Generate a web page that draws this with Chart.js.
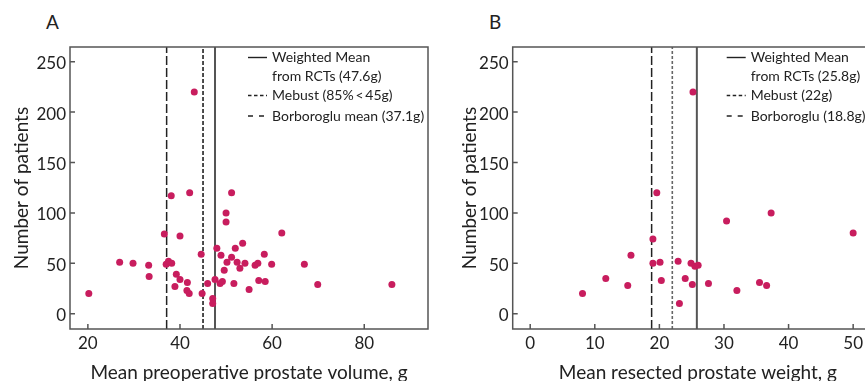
<!DOCTYPE html>
<html>
<head>
<meta charset="utf-8">
<script src="https://cdn.jsdelivr.net/npm/chart.js@4.4.1/dist/chart.umd.min.js"></script>
<style>
  html, body { margin: 0; padding: 0; background: #fff; width: 865px; height: 381px; overflow: hidden; position: relative; }
  canvas { position: absolute; top: 0; }
  #cA { left: 0; }
  #cB { left: 432px; }
  .tag { position: absolute; top: 12px; font: 19px/19px Lato, sans-serif; color: #222; }
</style>
</head>
<body>
<div class="tag" style="left:46px">A</div>
<div class="tag" style="left:489px">B</div>
<canvas id="cA" width="432" height="392"></canvas>
<canvas id="cB" width="455" height="392"></canvas>
<script>
// ---- data ----
const yTicks = [0, 50, 100, 150, 200, 250];

// A: mean preoperative prostate volume (g) vs number of patients
const volA = [20.2, 26.9, 29.8, 33.2, 33.3, 36.6, 37.0, 37.5, 38.2, 38.1, 39.2, 38.9, 40.0, 40.0, 41.6, 41.5,
  42.0, 42.1, 43.1, 44.6, 44.8, 46.0, 47.1, 47.1, 47.6, 48.0, 48.9, 48.7, 49.2, 49.6, 50.0, 50.0, 50.2, 51.2,
  51.2, 51.7, 52.0, 52.4, 53.0, 53.6, 54.1, 55.0, 56.3, 56.9, 57.1, 58.3, 58.5, 59.9, 62.1, 67.0, 69.9, 86.0];
const patientsA = [20, 51, 50, 48, 37, 79, 49, 52, 50, 117, 39, 27, 34, 77, 31, 23,
  20, 120, 220, 59, 20, 30, 15, 10, 34, 65, 58, 30, 32, 43, 100, 91, 51, 56,
  120, 30, 65, 51, 45, 70, 50, 24, 48, 50, 33, 59, 32, 49, 80, 49, 29, 29];
const xTicksA = [20, 40, 60, 80];
const refA = [47.6, 45, 37.1];
const legendA = [['Weighted Mean', 'from RCTs (47.6g)'], ['Mebust (85%\u2009<\u200945g)'], ['Borboroglu mean (37.1g)']];

// B: mean resected prostate weight (g) vs number of patients
const wtB = [8.1, 11.7, 15.1, 15.6, 19.0, 19.0, 19.6, 20.1, 20.3, 22.9, 23.1, 24.0, 24.9, 25.1, 25.2, 25.5,
  26.0, 27.6, 30.4, 32.0, 35.5, 36.6, 37.3, 50.0];
const patientsB = [20, 35, 28, 58, 74, 50, 120, 51, 33, 52, 10, 35, 50, 29, 220, 47,
  48, 30, 92, 23, 31, 28, 100, 80];
const xTicksB = [0, 10, 20, 30, 40, 50];
const refB = [25.8, 22, 18.8];
const legendB = [['Weighted Mean', 'from RCTs (25.8g)'], ['Mebust (22g)'], ['Borboroglu (18.8g)']];

// ---- styling ----
const FONT = 'Lato, "Liberation Sans", sans-serif';
const TXT = '#222';
const DOT = '#c81d5e';
const FRAME = '#555';
const Y_MIN = -15.2, Y_MAX = 264.6;

// solid weighted mean, short-dash Mebust, long-dash Borboroglu
const refStylesA = [
  { color: '#555', width: 2, dash: [], sample: [] },
  { color: '#222', width: 1.6, dash: [4, 2], sample: [3.5, 2.5] },
  { color: '#222', width: 1.5, dash: [9, 3], sample: [5, 6] },
];
const refStylesB = [
  { color: '#555', width: 2, dash: [], sample: [] },
  { color: '#666', width: 1.6, dash: [3, 2], sample: [3.5, 2.5] },
  { color: '#222', width: 1.5, dash: [9, 3], sample: [5, 6] },
];

// frame, inward tick marks and the two-line legend
const panelDeco = {
  id: 'panelDeco',
  afterDraw(chart, args, o) {
    const { ctx, chartArea: a, scales } = chart;
    ctx.save();
    ctx.strokeStyle = FRAME; ctx.lineWidth = 1.5; ctx.setLineDash([]);
    ctx.strokeRect(a.left, a.top, a.right - a.left, a.bottom - a.top);
    ctx.beginPath();
    scales.x.ticks.forEach((t) => { const p = scales.x.getPixelForValue(t.value); ctx.moveTo(p, a.bottom); ctx.lineTo(p, a.bottom - 5); });
    scales.y.ticks.forEach((t) => { const p = scales.y.getPixelForValue(t.value); ctx.moveTo(a.left, p); ctx.lineTo(a.left + 5, p); });
    ctx.stroke();

    ctx.font = '14px ' + FONT; ctx.fillStyle = TXT; ctx.textBaseline = 'middle'; ctx.textAlign = 'left';
    o.labels.forEach((lines, i) => {
      const st = o.styles[i], y = o.rows[i];
      ctx.strokeStyle = '#222'; ctx.lineWidth = 1.4; ctx.setLineDash(st.sample);
      ctx.beginPath(); ctx.moveTo(o.x0, y); ctx.lineTo(o.x0 + 19, y); ctx.stroke();
      lines.forEach((s, j) => ctx.fillText(s, o.x0 + 24, y + j * 19));
    });
    ctx.restore();
  },
};

function makeChart(id, o) {
  const pts = o.xs.map((x, i) => ({ x, y: o.ys[i] }));
  const lines = o.refs.map((v, i) => ({
    type: 'line', data: [{ x: v, y: Y_MIN }, { x: v, y: Y_MAX }],
    borderColor: o.styles[i].color, borderWidth: o.styles[i].width, borderDash: o.styles[i].dash,
    pointRadius: 0, fill: false, tension: 0,
  }));
  return new Chart(document.getElementById(id), {
    type: 'scatter',
    data: { datasets: [{ data: pts, backgroundColor: DOT, borderWidth: 0, pointRadius: 3.5 }, ...lines] },
    options: {
      responsive: false, animation: false, events: [],
      layout: { padding: { top: 47, right: o.padRight, left: 0, bottom: 0 } },
      plugins: {
        legend: { display: false }, tooltip: { enabled: false },
        panelDeco: { labels: o.legend, styles: o.styles, x0: o.legendX, rows: [57.5, 95.5, 116] },
      },
      scales: {
        x: {
          type: 'linear', min: o.xMin, max: o.xMax,
          afterBuildTicks: (s) => { s.ticks = o.xTicks.map((v) => ({ value: v })); },
          afterFit: (s) => { s.height = 63; },
          grid: { display: false, drawTicks: false }, border: { display: false },
          ticks: { color: TXT, font: { family: FONT, size: 17 }, padding: 4, maxRotation: 0 },
          title: { display: true, text: o.xTitle, color: TXT, font: { family: FONT, size: 19 }, padding: { top: 0, bottom: 7.5 } },
        },
        y: {
          type: 'linear', min: Y_MIN, max: Y_MAX,
          afterBuildTicks: (s) => { s.ticks = yTicks.map((v) => ({ value: v })); },
          afterFit: (s) => { s.width = o.yAxisW; },
          grid: { display: false, drawTicks: false }, border: { display: false },
          ticks: { color: TXT, font: { family: FONT, size: 17 }, padding: 4, labelOffset: 2 },
          title: { display: true, text: 'Number of patients', color: TXT, font: { family: FONT, size: 19 }, padding: { top: o.yTitlePad, bottom: 0 } },
        },
      },
    },
    plugins: [panelDeco],
  });
}

makeChart('cA', {
  xs: volA, ys: patientsA, refs: refA, styles: refStylesA, legend: legendA, legendX: 248,
  xMin: 16.12, xMax: 93.84, xTicks: xTicksA, xTitle: 'Mean preoperative prostate volume, g',
  yAxisW: 70, yTitlePad: 10.6, padRight: 1,
});
makeChart('cB', {
  xs: wtB, ys: patientsB, refs: refB, styles: refStylesB, legend: legendB, legendX: 294.7,
  xMin: -2.71, xMax: 54.62, xTicks: xTicksB, xTitle: 'Mean resected prostate weight, g',
  yAxisW: 80.7, yTitlePad: 26.9, padRight: 2,
});
</script>
</body>
</html>
